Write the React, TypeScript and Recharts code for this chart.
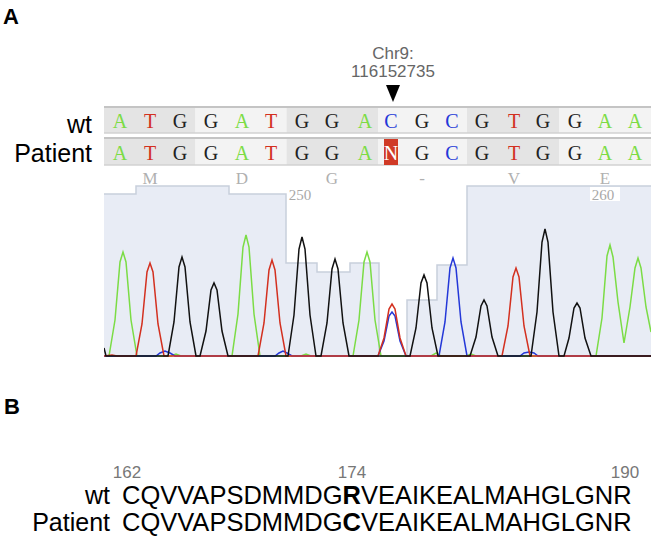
import React from 'react';
import { ComposedChart, Line, Area, XAxis, YAxis } from 'recharts';

// bases called at each peak (scan positions)
const wtBases = ['A', 'T', 'G', 'G', 'A', 'T', 'G', 'G', 'A', 'C', 'G', 'C', 'G', 'T', 'G', 'G', 'A', 'A'];
const patientBases = ['A', 'T', 'G', 'G', 'A', 'T', 'G', 'G', 'A', 'N', 'G', 'C', 'G', 'T', 'G', 'G', 'A', 'A'];
const baseScan = [120, 150, 180, 211, 242, 271, 302, 332, 365, 391, 422, 452, 482, 514, 543, 575, 605, 635];
const aminoAcids = ['M', 'D', 'G', '-', 'V', 'E'];
const baseNumbers = [
  { base: 6, label: '250' },
  { base: 16, label: '260' },
];

// quality bars behind the trace (stepAfter)
const quality = [
  [104, 163], [136, 171], [229, 163], [286, 94], [317, 85], [350, 94],
  [379, 0], [407, 57], [437, 92], [467, 171], [651, 171],
];

// chromatogram channels [scan, intensity]
const traceA = [
  [104, 1], [109, 1], [115, 37], [120, 95], [123, 105], [126, 95], [131, 37], [137, 1],
  [171, 1], [176, 3], [181, 1], [232, 1], [238, 43], [243, 110], [246, 122], [249, 110],
  [254, 43], [260, 1], [301, 1], [306, 3], [311, 1], [353, 1], [359, 37], [364, 95],
  [367, 105], [370, 95], [375, 37], [381, 1], [431, 1], [436, 4], [441, 1], [466, 1],
  [471, 3], [476, 1], [596, 1], [602, 39], [607, 101], [610, 112], [613, 100], [618, 55],
  [624, 14], [630, 50], [635, 89], [638, 99], [641, 89], [646, 50], [651, 25],
];
const traceT = [
  [104, 1], [112, 2], [117, 1], [136, 1], [142, 33], [147, 85], [150, 94], [153, 85],
  [158, 33], [164, 1], [258, 1], [264, 34], [269, 87], [272, 97], [275, 87], [280, 34],
  [286, 1], [378, 1], [384, 19], [389, 48], [392, 53], [395, 48], [400, 19], [406, 1],
  [502, 1], [508, 31], [513, 80], [516, 89], [519, 80], [524, 31], [530, 1], [651, 1],
];
const traceG = [
  [104, 9], [106, 1], [168, 1], [174, 35], [179, 90], [182, 100], [185, 90], [190, 35],
  [196, 1], [200, 1], [206, 26], [211, 67], [214, 74], [217, 67], [222, 26], [228, 1],
  [288, 1], [294, 42], [299, 108], [302, 120], [305, 108], [310, 42], [316, 1], [321, 1],
  [327, 34], [332, 88], [335, 98], [338, 88], [343, 34], [349, 1], [410, 1], [416, 29],
  [421, 74], [424, 82], [427, 74], [432, 29], [438, 1], [470, 1], [476, 20], [481, 51],
  [484, 57], [487, 51], [492, 20], [498, 1], [531, 1], [537, 45], [542, 115], [545, 128],
  [548, 115], [553, 45], [559, 1], [564, 1], [569, 19], [574, 49], [577, 54], [580, 49],
  [585, 19], [591, 1], [651, 1],
];
const traceC = [
  [104, 1], [156, 1], [160, 4], [165, 6], [170, 4], [175, 1], [275, 1], [279, 4],
  [283, 6], [287, 4], [292, 1], [378, 1], [384, 16], [389, 41], [392, 45], [395, 41],
  [400, 16], [406, 1], [439, 1], [445, 35], [450, 89], [453, 99], [456, 89], [461, 35],
  [467, 1], [520, 1], [524, 4], [529, 5], [534, 4], [538, 1], [651, 1],
];

const proteinWt = 'CQVVAPSDMMDGRVEAIKEALMAHGLGNR';
const proteinPatient = 'CQVVAPSDMMDGCVEAIKEALMAHGLGNR';
const mutatedIndex = 12;
const residueTicks = [
  { label: '162', x: 127 },
  { label: '174', x: 352 },
  { label: '190', x: 625 },
];

const baseColor: Record<string, string> = {
  A: '#7bdc45',
  T: '#d3301f',
  G: '#222222',
  C: '#2438d8',
  N: '#ffffff',
};

const SCAN_MIN = 104;
const SCAN_MAX = 651;
const CHART_LEFT = 104;
const CHART_TOP = 176;
const CHART_W = 547;
const CHART_H = 184;
const toPx = (s: number) => CHART_LEFT + ((s - SCAN_MIN) / (SCAN_MAX - SCAN_MIN)) * CHART_W;

const pts = (arr: number[][]) => arr.map(([x, y]) => ({ x, y }));

const sans = 'Liberation Sans, Arial, sans-serif';
const serif = 'Liberation Serif, DejaVu Serif, serif';

const codonEdges = () => {
  const edges = [SCAN_MIN];
  for (let i = 3; i < baseScan.length; i += 3) edges.push((baseScan[i - 1] + baseScan[i]) / 2);
  edges.push(SCAN_MAX);
  return edges;
};

const BaseRow: React.FC<{ bases: string[]; top: number; height: number }> = ({ bases, top, height }) => {
  const edges = codonEdges();
  return (
    <g>
      {edges.slice(0, -1).map((e, i) => (
        <rect key={i} x={toPx(e)} y={top} width={toPx(edges[i + 1]) - toPx(e)} height={height}
          fill={i % 2 === 0 ? '#e4e4e4' : '#f3f3f3'} />
      ))}
      <line x1={104} x2={651} y1={top} y2={top} stroke="#c4c4c4" strokeWidth={2} />
      <line x1={104} x2={651} y1={top + height} y2={top + height} stroke="#d2d2d2" strokeWidth={1.5} />
      {bases.map((b, i) => (
        <g key={i}>
          {b === 'N' && (
            <rect x={toPx(baseScan[i]) - 7} y={top + 1} width={14} height={height - 1} fill="#d03a26" />
          )}
          <text x={toPx(baseScan[i])} y={top + height / 2 + 1} textAnchor="middle" dominantBaseline="central"
            fontFamily={serif} fontSize={20} fill={baseColor[b]}>
            {b}
          </text>
        </g>
      ))}
    </g>
  );
};

const App: React.FC = () => {
  return (
    <div style={{ position: 'absolute', left: 0, top: 0, width: 651, height: 538, background: '#fff' }}>
      <svg width={651} height={538} style={{ position: 'absolute', left: 0, top: 0 }}>
        <text x={3} y={24} fontFamily={sans} fontWeight="bold" fontSize={22} fill="#000">A</text>
        <text x={393} y={53} textAnchor="middle" dominantBaseline="central" fontFamily={sans} fontSize={17} fill="#666">Chr9:</text>
        <text x={393} y={71} textAnchor="middle" dominantBaseline="central" fontFamily={sans} fontSize={17} fill="#666">116152735</text>
        <polygon points="386,85 400,85 393,102" fill="#000" />

        <text x={92} y={124} textAnchor="end" dominantBaseline="central" fontFamily={sans} fontSize={25} fill="#000">wt</text>
        <text x={92} y={153} textAnchor="end" dominantBaseline="central" fontFamily={sans} fontSize={25} fill="#000">Patient</text>
        <BaseRow bases={wtBases} top={107} height={26} />
        <BaseRow bases={patientBases} top={138} height={27} />
        {aminoAcids.map((aa, i) => (
          <text key={i} x={toPx(baseScan[i * 3 + 1])} y={178} textAnchor="middle" dominantBaseline="central"
            fontFamily={serif} fontSize={17} fill="#b0b0b0">
            {aa}
          </text>
        ))}

        <text x={4} y={414} fontFamily={sans} fontWeight="bold" fontSize={22} fill="#000">B</text>
        {residueTicks.map((t) => (
          <text key={t.label} x={t.x} y={472} textAnchor="middle" dominantBaseline="central" fontFamily={sans} fontSize={17} fill="#777">
            {t.label}
          </text>
        ))}
        <text x={110} y={495} textAnchor="end" dominantBaseline="central" fontFamily={sans} fontSize={25} fill="#000">wt</text>
        <text x={110} y={522} textAnchor="end" dominantBaseline="central" fontFamily={sans} fontSize={25} fill="#000">Patient</text>
        {[{ seq: proteinWt, y: 495 }, { seq: proteinPatient, y: 522 }].map((r) => (
          <text key={r.y} x={122} y={r.y} dominantBaseline="central" fontFamily={sans} fontSize={25.5} fill="#000">
            <tspan>{r.seq.slice(0, mutatedIndex)}</tspan>
            <tspan fontWeight="bold">{r.seq[mutatedIndex]}</tspan>
            <tspan>{r.seq.slice(mutatedIndex + 1)}</tspan>
          </text>
        ))}
      </svg>

      <div style={{ position: 'absolute', left: CHART_LEFT, top: CHART_TOP }}>
        <ComposedChart width={CHART_W} height={CHART_H} margin={{ top: 0, right: 0, bottom: 3, left: 0 }}>
          <XAxis type="number" dataKey="x" domain={[SCAN_MIN, SCAN_MAX]} hide allowDataOverflow />
          <YAxis type="number" domain={[0, 181]} hide allowDataOverflow />
          <Area data={pts(quality)} dataKey="y" type="stepAfter" fill="#e8ecf5" fillOpacity={1}
            stroke="#c8cfdc" strokeWidth={1.5} isAnimationActive={false} />
          <Line data={pts(traceA)} dataKey="y" type="linear" stroke="#7bdc45" strokeWidth={1.5} dot={false} isAnimationActive={false} />
          <Line data={pts(traceC)} dataKey="y" type="linear" stroke="#2438d8" strokeWidth={1.5} dot={false} isAnimationActive={false} />
          <Line data={pts(traceT)} dataKey="y" type="linear" stroke="#d3301f" strokeWidth={1.5} dot={false} isAnimationActive={false} />
          <Line data={pts(traceG)} dataKey="y" type="linear" stroke="#111111" strokeWidth={1.5} dot={false} isAnimationActive={false} />
        </ComposedChart>
      </div>

      <svg width={651} height={538} style={{ position: 'absolute', left: 0, top: 0, pointerEvents: 'none' }}>
        {baseNumbers.map((n) => (
          <g key={n.label}>
            <rect x={toPx(baseScan[n.base]) - 15} y={187} width={30} height={14} fill="#fff" />
            <text x={toPx(baseScan[n.base]) - 2} y={195} textAnchor="middle" dominantBaseline="central"
              fontFamily={serif} fontSize={15} fill="#a8a8a8">
              {n.label}
            </text>
          </g>
        ))}
      </svg>
    </div>
  );
};

export default App;
